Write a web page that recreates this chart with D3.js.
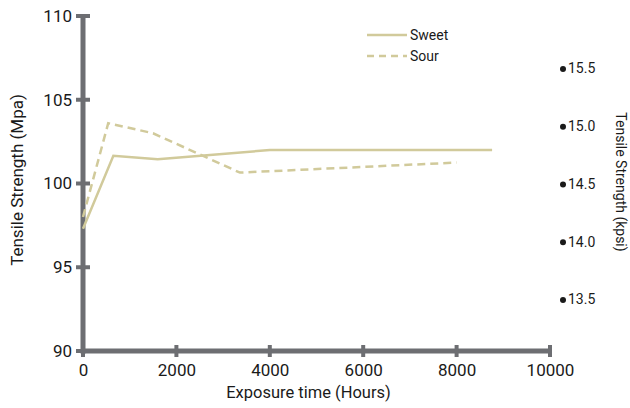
<!DOCTYPE html>
<html><head><meta charset="utf-8">
<script src="https://cdn.jsdelivr.net/npm/d3@7"></script>
<style>body{margin:0;background:#fff}svg{display:block}text{font-family:Roboto,"Liberation Sans",sans-serif}</style>
</head><body><svg id="c" width="630" height="408"></svg>
<script>
const sweetHours = [0, 650, 1600, 4000, 8760];
const sweetMpa   = [97.3, 101.65, 101.45, 102.0, 102.0];
const sourHours  = [0, 540, 1500, 3360, 8000];
const sourMpa    = [98.0, 103.6, 103.0, 100.65, 101.25];
const xTicks = [0, 2000, 4000, 6000, 8000, 10000];
const yTicks = [90, 95, 100, 105, 110];
const kpsiTicks = [13.5, 14.0, 14.5, 15.0, 15.5];
const seriesNames = ["Sweet", "Sour"];

const svg = d3.select("#c");
const axisColor = "#6d6e72", lineColor = "#d1ca9b", textColor = "#1a1a1a";
const x = d3.scaleLinear().domain([0, 10000]).range([83, 550]);
const y = d3.scaleLinear().domain([90, 110]).range([351, 16]);
const MPA2KPSI = 0.145038;
const yk = d3.scaleLinear().domain([90 * MPA2KPSI, 110 * MPA2KPSI]).range([351, 16]);

// x axis
const gx = svg.append("g").attr("transform", `translate(0,${y(90)})`)
  .call(d3.axisBottom(x).tickValues(xTicks).tickFormat(d3.format("d")).tickSize(0).tickPadding(13));
gx.select(".domain").remove();
gx.selectAll("text").attr("font-size", 17).attr("fill", textColor);
// y axis
const gy = svg.append("g").attr("transform", `translate(${x(0)},0)`)
  .call(d3.axisLeft(y).tickValues(yTicks).tickSize(0).tickPadding(11));
gy.select(".domain").remove();
gy.selectAll("text").attr("font-size", 17).attr("fill", textColor);

// axis lines
svg.append("line").attr("x1", x(0)).attr("x2", x(10000)).attr("y1", y(90)).attr("y2", y(90))
  .attr("stroke", axisColor).attr("stroke-width", 5);
svg.append("line").attr("x1", x(0)).attr("x2", x(0)).attr("y1", y(90) + 2.5).attr("y2", y(110))
  .attr("stroke", axisColor).attr("stroke-width", 5);
svg.selectAll(".xt").data(xTicks).join("line").attr("class", "xt")
  .attr("x1", d => x(d)).attr("x2", d => x(d)).attr("y1", y(90) - 6).attr("y2", y(90) + 6)
  .attr("stroke", axisColor).attr("stroke-width", 4);
svg.selectAll(".yt").data(yTicks).join("line").attr("class", "yt")
  .attr("x1", x(0) - 7).attr("x2", x(0) + 7).attr("y1", d => y(d)).attr("y2", d => y(d))
  .attr("stroke", axisColor).attr("stroke-width", 4);

// right kpsi axis
const gk = svg.append("g").attr("transform", "translate(563,0)")
  .call(d3.axisRight(yk).tickValues(kpsiTicks).tickFormat(d3.format(".1f")).tickSize(0).tickPadding(5));
gk.select(".domain").remove();
gk.selectAll("text").attr("font-size", 14).attr("fill", textColor);
gk.selectAll(".tick").append("circle").attr("r", 3).attr("fill", textColor);

// labels
svg.append("text").attr("x", x(5000) - 8).attr("y", 398).attr("text-anchor", "middle")
  .attr("font-size", 16.5).attr("fill", textColor).text("Exposure time (Hours)");
svg.append("text").attr("transform", "translate(23,180) rotate(-90)").attr("text-anchor", "middle")
  .attr("font-size", 17).attr("fill", textColor).text("Tensile Strength (Mpa)");
svg.append("text").attr("transform", "translate(616,182) rotate(90)").attr("text-anchor", "middle")
  .attr("font-size", 14).attr("fill", textColor).text("Tensile Strength (kpsi)");

// lines
const line = d3.line().x(d => x(d[0])).y(d => y(d[1]));
const sweet = sweetHours.map((h, i) => [h, sweetMpa[i]]);
const sour = sourHours.map((h, i) => [h, sourMpa[i]]);
svg.append("path").datum(sweet).attr("d", line).attr("fill", "none")
  .attr("stroke", lineColor).attr("stroke-width", 2.5);
svg.append("path").datum(sour).attr("d", line).attr("fill", "none")
  .attr("stroke", lineColor).attr("stroke-width", 2.5).attr("stroke-dasharray", "8,5");

// legend
const leg = svg.append("g");
seriesNames.forEach((n, i) => {
  const yy = 35 + i * 21;
  leg.append("line").attr("x1", 367).attr("x2", 407).attr("y1", yy).attr("y2", yy)
    .attr("stroke", lineColor).attr("stroke-width", 2.5)
    .attr("stroke-dasharray", i === 1 ? "7,5" : null);
  leg.append("text").attr("x", 410).attr("y", yy).attr("dy", "0.35em")
    .attr("font-size", 14).attr("fill", textColor).text(n);
});
</script></body></html>
